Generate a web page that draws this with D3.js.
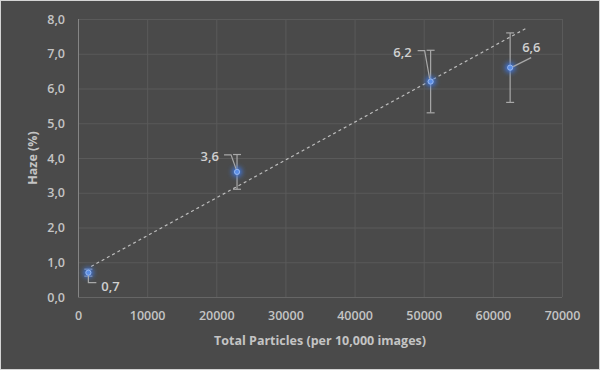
<!DOCTYPE html>
<meta charset="utf-8">
<style>
body { margin: 0; background: #fff; }
svg { display: block; }
.tick text { font-family: "Open Sans", sans-serif; font-weight: 600; font-size: 12.5px; fill: #c4c4c4; }
.title { font-family: "Open Sans", sans-serif; font-weight: 700; font-size: 12.5px; fill: #c4c4c4; }
.lbl { font-family: "Open Sans", sans-serif; font-weight: 600; font-size: 13px; fill: #d0d0d0; }
</style>
<svg width="600" height="370"></svg>
<script src="https://cdn.jsdelivr.net/npm/d3@7"></script>
<script>

// data
var particles = [1500, 23000, 51000, 62500];
var haze = [0.7, 3.6, 6.2, 6.6];
var hazeErr = [0.1, 0.5, 0.9, 1.0];
var labels = ["0,7", "3,6", "6,2", "6,6"];
var trendX = [1900, 64700];
var trendY = [0.88, 7.72];
var xTicks = [0, 10000, 20000, 30000, 40000, 50000, 60000, 70000];
var yTicks = [0, 1, 2, 3, 4, 5, 6, 7, 8];

var svg = d3.select("svg"),
    width = +svg.attr("width"),
    height = +svg.attr("height");

svg.append("rect")
    .attr("x", 0.5).attr("y", 0.5)
    .attr("width", width - 1).attr("height", height - 1)
    .attr("fill", "#4a4a4a")
    .attr("stroke", "#d4d4d4");

var x = d3.scaleLinear().domain([0, 70000]).range([78, 562]);
var y = d3.scaleLinear().domain([0, 8]).range([297, 19]);

var defs = svg.append("defs");
var glow = defs.append("filter").attr("id", "glow")
    .attr("x", "-200%").attr("y", "-200%").attr("width", "500%").attr("height", "500%");
glow.append("feGaussianBlur").attr("stdDeviation", 2.5);

// grid
svg.append("g").selectAll("line")
  .data(yTicks)
  .enter().append("line")
    .attr("x1", x(0)).attr("x2", x(70000))
    .attr("y1", function(d) { return y(d) + 0.5; })
    .attr("y2", function(d) { return y(d) + 0.5; })
    .attr("stroke", function(d) { return d == 0 ? "#666" : "#5a5a5a"; });

svg.append("g").selectAll("line")
  .data(xTicks)
  .enter().append("line")
    .attr("x1", function(d) { return x(d) + 0.5; })
    .attr("x2", function(d) { return x(d) + 0.5; })
    .attr("y1", y(0)).attr("y2", y(8))
    .attr("stroke", function(d) { return d == 0 ? "#858585" : "#5a5a5a"; });

// axes (labels only)
var xAxis = svg.append("g")
    .attr("transform", "translate(0," + (y(0) + 11) + ")")
    .call(d3.axisBottom(x).tickValues(xTicks).tickSize(0).tickFormat(d3.format("d")));
xAxis.select(".domain").remove();
xAxis.selectAll("text").attr("dy", "0.71em");

var yAxis = svg.append("g")
    .attr("transform", "translate(" + (x(0) - 10) + ",0)")
    .call(d3.axisLeft(y).tickValues(yTicks).tickSize(0)
      .tickFormat(function(d) { return d3.format(".1f")(d).replace(".", ","); }));
yAxis.select(".domain").remove();

svg.append("text").attr("class", "title")
    .attr("x", 320).attr("y", 345)
    .attr("text-anchor", "middle")
    .text("Total Particles (per 10,000 images)");

svg.append("text").attr("class", "title")
    .attr("transform", "translate(37,158) rotate(-90)")
    .attr("text-anchor", "middle")
    .text("Haze (%)");

// trendline
svg.append("line")
    .attr("x1", x(trendX[0])).attr("y1", y(trendY[0]))
    .attr("x2", x(trendX[1])).attr("y2", y(trendY[1]))
    .attr("stroke", "#bdbdbd")
    .attr("stroke-width", 1.2)
    .attr("stroke-dasharray", "3,3");

var pts = particles.map(function(p, i) {
  return {x: p, y: haze[i], e: hazeErr[i], label: labels[i]};
});

// error bars
var eb = svg.append("g").attr("stroke", "#a8a8a8").attr("stroke-width", 1.2);
eb.selectAll(".v").data(pts).enter().append("line")
    .attr("x1", function(d) { return x(d.x); }).attr("x2", function(d) { return x(d.x); })
    .attr("y1", function(d) { return y(d.y + d.e); }).attr("y2", function(d) { return y(d.y - d.e); });
eb.selectAll(".t").data(pts).enter().append("line")
    .attr("x1", function(d) { return x(d.x) - 4; }).attr("x2", function(d) { return x(d.x) + 4; })
    .attr("y1", function(d) { return y(d.y + d.e); }).attr("y2", function(d) { return y(d.y + d.e); });
eb.selectAll(".b").data(pts).enter().append("line")
    .attr("x1", function(d) { return x(d.x) - 4; }).attr("x2", function(d) { return x(d.x) + 4; })
    .attr("y1", function(d) { return y(d.y - d.e); }).attr("y2", function(d) { return y(d.y - d.e); });

// markers
var mk = svg.append("g");
mk.selectAll(".g").data(pts).enter().append("circle")
    .attr("cx", function(d) { return x(d.x); })
    .attr("cy", function(d) { return y(d.y); })
    .attr("r", 5)
    .attr("fill", "#3f78e0")
    .attr("filter", "url(#glow)");
mk.selectAll(".c").data(pts).enter().append("circle")
    .attr("cx", function(d) { return x(d.x); })
    .attr("cy", function(d) { return y(d.y); })
    .attr("r", 2.6)
    .attr("fill", "#5b8ee6")
    .attr("stroke", "#a9c4f2")
    .attr("stroke-width", 0.8);

// data labels with leader lines (offsets in px)
var lblPos = [
  {dx: 13, dy: 14, anchor: "start", leader: [[0, 3], [0, 10], [8, 10]]},
  {dx: -18, dy: -15, anchor: "end", leader: [[-1, -3], [-6, -17], [-13, -17]]},
  {dx: -19, dy: -29, anchor: "end", leader: [[-1, -3], [-6, -31], [-13, -31]]},
  {dx: 12, dy: -20, anchor: "start", leader: [[3, -1], [21, -10]]}
];

pts.forEach(function(d, i) {
  var px = x(d.x), py = y(d.y), L = lblPos[i];
  svg.append("path")
      .attr("d", d3.line()(L.leader.map(function(p) { return [px + p[0], py + p[1]]; })))
      .attr("fill", "none")
      .attr("stroke", "#a8a8a8")
      .attr("stroke-width", 1.2);
  svg.append("text").attr("class", "lbl")
      .attr("x", px + L.dx).attr("y", py + L.dy)
      .attr("dy", "0.35em")
      .attr("text-anchor", L.anchor)
      .text(d.label);
});

</script>
